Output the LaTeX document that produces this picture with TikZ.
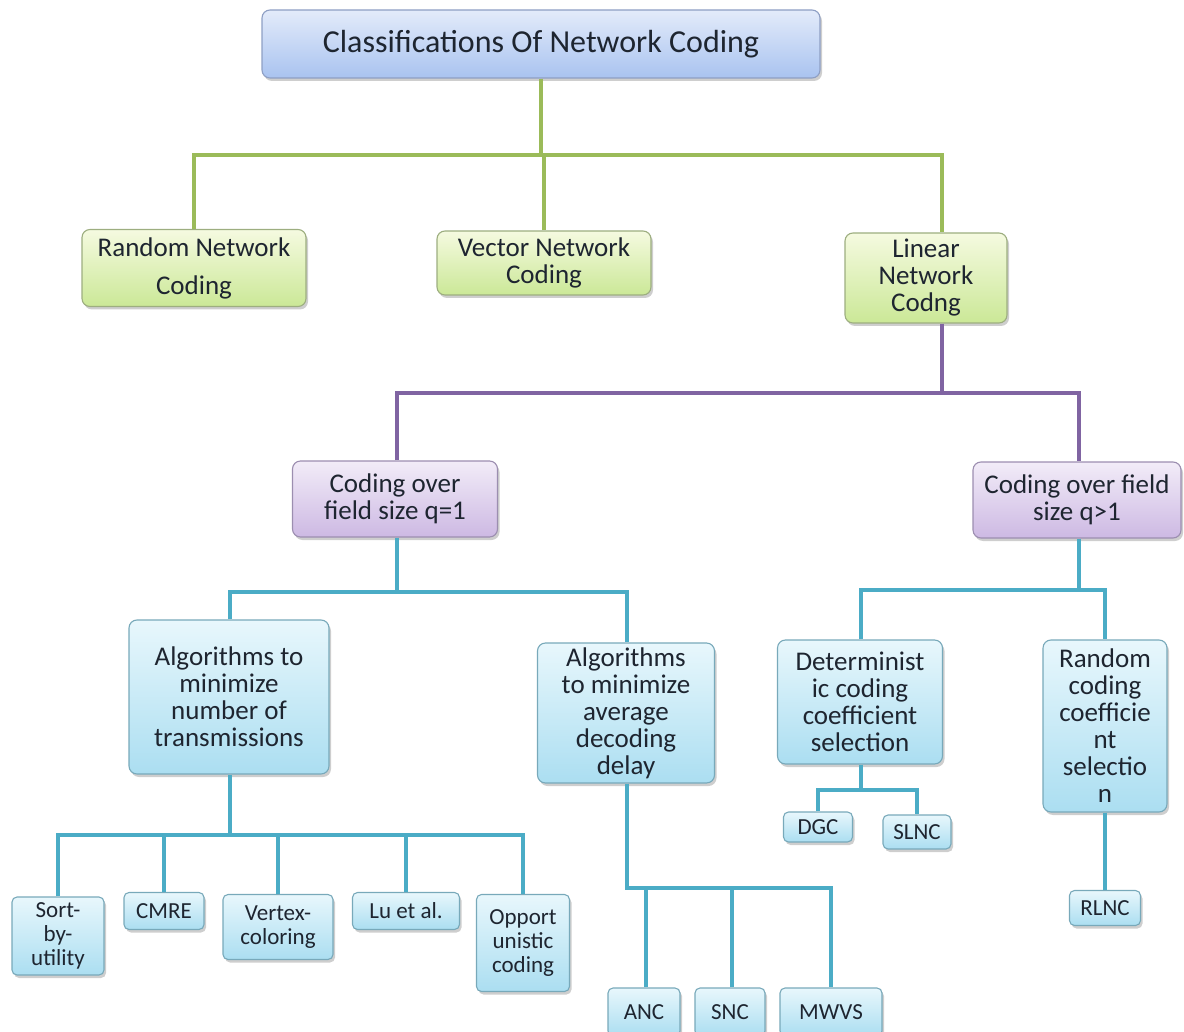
\documentclass[tikz,border=0pt]{standalone}
\usepackage{fontspec}
\setmainfont{Carlito}
\usetikzlibrary{shadows}

\definecolor{linegreen}{HTML}{9BBB59}
\definecolor{linepurple}{HTML}{8064A2}
\definecolor{linecyan}{HTML}{4BACC6}
\definecolor{inkdark}{HTML}{1E2530}
\definecolor{titletop}{HTML}{E3EBFA}
\definecolor{titlebot}{HTML}{A9C3F0}
\definecolor{titleedge}{HTML}{8E9FC4}
\definecolor{greentop}{HTML}{F5FAE0}
\definecolor{greenbot}{HTML}{CBE897}
\definecolor{greenedge}{HTML}{9DAE80}
\definecolor{purpletop}{HTML}{F2ECF8}
\definecolor{purplebot}{HTML}{CDB9E3}
\definecolor{purpleedge}{HTML}{9C8EB0}
\definecolor{cyantop}{HTML}{E8F7FC}
\definecolor{cyanbot}{HTML}{ABDEF1}
\definecolor{cyanedge}{HTML}{78A9BA}

\begin{document}
\begin{tikzpicture}[
    x=1pt, y=-1pt,
    card/.style={
        rectangle,
        rounded corners=8pt,
        line width=1.1pt,
        align=center,
        inner sep=0pt,
        text=inkdark,
        font=\fontsize{27}{27}\selectfont,
        drop shadow={shadow xshift=2pt, shadow yshift=-3pt, opacity=0.35, fill=black!55}
    },
    titlebox/.style={card, draw=titleedge, top color=titletop, bottom color=titlebot,
        font=\fontsize{32}{36}\selectfont},
    greenbox/.style={card, draw=greenedge, top color=greentop, bottom color=greenbot},
    purplebox/.style={card, draw=purpleedge, top color=purpletop, bottom color=purplebot},
    cyanbox/.style={card, draw=cyanedge, top color=cyantop, bottom color=cyanbot},
    leafbox/.style={cyanbox, rounded corners=5pt, font=\fontsize{23}{24}\selectfont},
    greenline/.style={draw=linegreen, line width=3.5pt},
    purpleline/.style={draw=linepurple, line width=3.5pt},
    cyanline/.style={draw=linecyan, line width=3.5pt}
]
\useasboundingbox (0,0) rectangle (1184,1032);

% top level
\node[titlebox, minimum width=558, minimum height=68] (title) at (541,44) {Classifications Of Network Coding};

\node[greenbox, minimum width=224, minimum height=77] (rnc) at (194,268) {Random Network\\[11pt]Coding};
\node[greenbox, minimum width=214, minimum height=64] (vnc) at (544,263) {Vector Network\\Coding};
\node[greenbox, minimum width=162, minimum height=90] (lnc) at (926,278) {Linear\\Network\\Codng};

\coordinate (gsplit) at (541,155);
\draw[greenline] (title.south) -- (gsplit);
\draw[greenline] (rnc.north) |- (gsplit) -| ([xshift=16pt]lnc.north);
\draw[greenline] (vnc.north) -- (vnc.north |- gsplit);

% linear network coding
\node[purplebox, minimum width=205, minimum height=76] (q1) at (395,499) {Coding over\\field size q=1};
\node[purplebox, minimum width=208, minimum height=76] (q2) at (1077,500) {Coding over field\\size q>1};

\coordinate (psplit) at (942,393);
\draw[purpleline] ([xshift=16pt]lnc.south) -- (psplit);
\draw[purpleline] ([xshift=2pt]q1.north) |- (psplit) -| ([xshift=2pt]q2.north);

% field size q=1
\node[cyanbox, minimum width=200, minimum height=154] (alg1) at (229,697) {Algorithms to\\minimize\\number of\\transmissions};
\node[cyanbox, minimum width=177, minimum height=140] (alg2) at (626,713) {Algorithms\\to minimize\\average\\decoding\\delay};

\coordinate (q1split) at (397,592);
\draw[cyanline] ([xshift=2pt]q1.south) -- (q1split);
\draw[cyanline] ([xshift=1pt]alg1.north) |- (q1split) -| ([xshift=1pt]alg2.north);

% field size q>1
\node[cyanbox, minimum width=165, minimum height=124] (det) at (860,702) {Determinist\\ic coding\\coefficient\\selection};
\node[cyanbox, minimum width=124, minimum height=172] (rcc) at (1105,726) {Random\\coding\\coefficie\\nt\\selectio\\n};

\coordinate (q2split) at (1079,590);
\draw[cyanline] ([xshift=2pt]q2.south) -- (q2split);
\draw[cyanline] ([xshift=1pt]det.north) |- (q2split) -| (rcc.north);

% leaves of alg1
\node[leafbox, minimum width=92, minimum height=78] (sort) at (58,936) {Sort-\\by-\\utility};
\node[leafbox, minimum width=80, minimum height=37] (cmre) at (164,911) {CMRE};
\node[leafbox, minimum width=110, minimum height=65] (vertex) at (278,927) {Vertex-\\coloring};
\node[leafbox, minimum width=107, minimum height=37] (lu) at (406,911) {Lu et al.};
\node[leafbox, minimum width=93, minimum height=97] (opp) at (523,943) {Opport\\unistic\\coding};

\coordinate (a1split) at (230,835);
\draw[cyanline] ([xshift=1pt]alg1.south) -- (a1split);
\draw[cyanline] (sort.north) |- (a1split) -| (opp.north);
\foreach \leaf in {cmre, vertex, lu} {
    \draw[cyanline] (\leaf.north) -- (\leaf.north |- a1split);
}

% leaves of alg2
\node[leafbox, minimum width=72, minimum height=48] (anc) at (644,1012) {ANC};
\node[leafbox, minimum width=70, minimum height=48] (snc) at (730,1012) {SNC};
\node[leafbox, minimum width=102, minimum height=48] (mwvs) at (831,1012) {MWVS};

\coordinate (a2split) at (627,888);
\draw[cyanline] ([xshift=1pt]alg2.south) -- (a2split) -| (mwvs.north);
\foreach \leaf in {anc, snc} {
    \draw[cyanline] ([xshift=2pt]\leaf.north) -- ([xshift=2pt]\leaf.north |- a2split);
}

% leaves of det and rcc
\node[leafbox, minimum width=69, minimum height=30] (dgc) at (818,827) {DGC};
\node[leafbox, minimum width=68, minimum height=34] (slnc) at (917,832) {SLNC};
\node[leafbox, minimum width=71, minimum height=35] (rlnc) at (1105,908) {RLNC};

\coordinate (dsplit) at (861,790);
\draw[cyanline] ([xshift=1pt]det.south) -- (dsplit);
\draw[cyanline] (dgc.north) |- (dsplit) -| (slnc.north);
\draw[cyanline] (rcc.south) -- (rlnc.north);

\end{tikzpicture}
\end{document}
